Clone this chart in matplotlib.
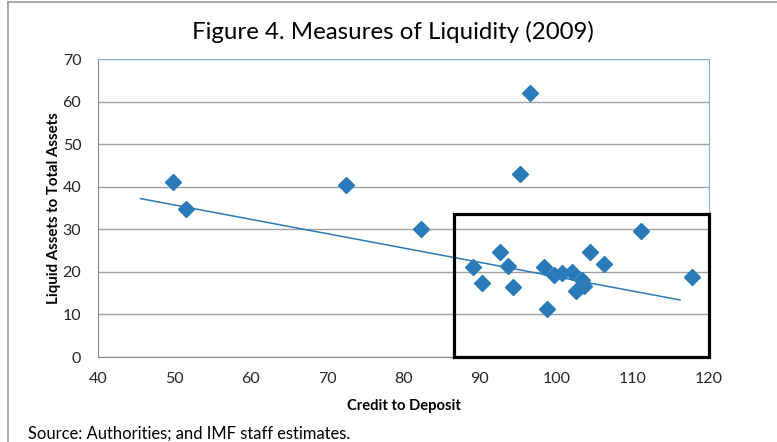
import matplotlib.pyplot as plt
from matplotlib.patches import Rectangle
from matplotlib.lines import Line2D

plt.rcParams['font.family'] = ['Lato', 'DejaVu Sans']

# кредит к депозитам (x) и ликвидные активы к общим активам (y)
credit_to_deposit = [49.8, 51.5, 72.5, 82.3, 96.6, 95.2,
                     89.1, 90.3, 92.7, 93.7, 94.3, 98.4, 98.8, 99.7,
                     100.8, 102.1, 102.6, 103.4, 103.6, 104.4, 106.3, 111.1, 117.8]
liquid_to_assets = [41.1, 34.7, 40.5, 30.0, 62.0, 43.1,
                    21.1, 17.3, 24.7, 21.4, 16.4, 21.2, 11.3, 19.2,
                    19.8, 20.0, 15.4, 18.1, 16.6, 24.7, 21.9, 29.5, 18.8]

# линия тренда (концы)
trend_x = [45.6, 116.2]
trend_y = [37.2, 13.4]

x_ticks = [40, 50, 60, 70, 80, 90, 100, 110, 120]
y_ticks = [0, 10, 20, 30, 40, 50, 60, 70]

BLUE = '#2a7ab9'

fig = plt.figure(figsize=(7.77, 4.42), dpi=100)
ax = fig.add_axes([0.1261, 0.1923, 0.9125 - 0.1261, 0.8665 - 0.1923])

ax.plot(trend_x, trend_y, color=BLUE, lw=1.1, zorder=2)
ax.plot(credit_to_deposit, liquid_to_assets, 'D', color=BLUE, ms=7.8,
        mec=BLUE, zorder=3)

ax.set_xlim(40, 120)
ax.set_ylim(0, 70)
ax.set_xticks(x_ticks)
ax.set_yticks(y_ticks)
ax.tick_params(length=0, labelsize=11.5, labelcolor='#262626')
ax.tick_params(axis='x', pad=11)
ax.tick_params(axis='y', pad=12)

ax.grid(axis='y', color='#a0a0a0', lw=1)
ax.set_axisbelow(True)
ax.spines['left'].set_color('#888888')
ax.spines['bottom'].set_color('#888888')
ax.spines['top'].set_color('#7fb2dc')
ax.spines['right'].set_color('#7fb2dc')

ax.set_xlabel('Credit to Deposit', fontsize=10.6, fontweight='bold', labelpad=9)
ax.set_ylabel('Liquid Assets to Total Assets', fontsize=10.8, fontweight='bold', labelpad=1)

# выделяющая рамка
ax.add_patch(Rectangle((86.6, 0), 120 - 86.6, 33.6, fill=False, ec='black',
                       lw=2.3, clip_on=False, zorder=4))

fig.text(0.506, 0.928, 'Figure 4. Measures of Liquidity (2009)', ha='center',
         va='center', fontsize=17.3)
fig.text(0.036, 0.02, 'Source: Authorities; and IMF staff estimates.', ha='left',
         va='center', fontsize=11.9)

# рамка рисунка сверху и слева
fig.add_artist(Line2D([0.0103, 1.0], [0.995, 0.995], color='#999999', lw=1.2))
fig.add_artist(Line2D([0.0103, 0.0103], [0.0, 0.995], color='#999999', lw=1.2))

fig.savefig('out.png', dpi=100)
